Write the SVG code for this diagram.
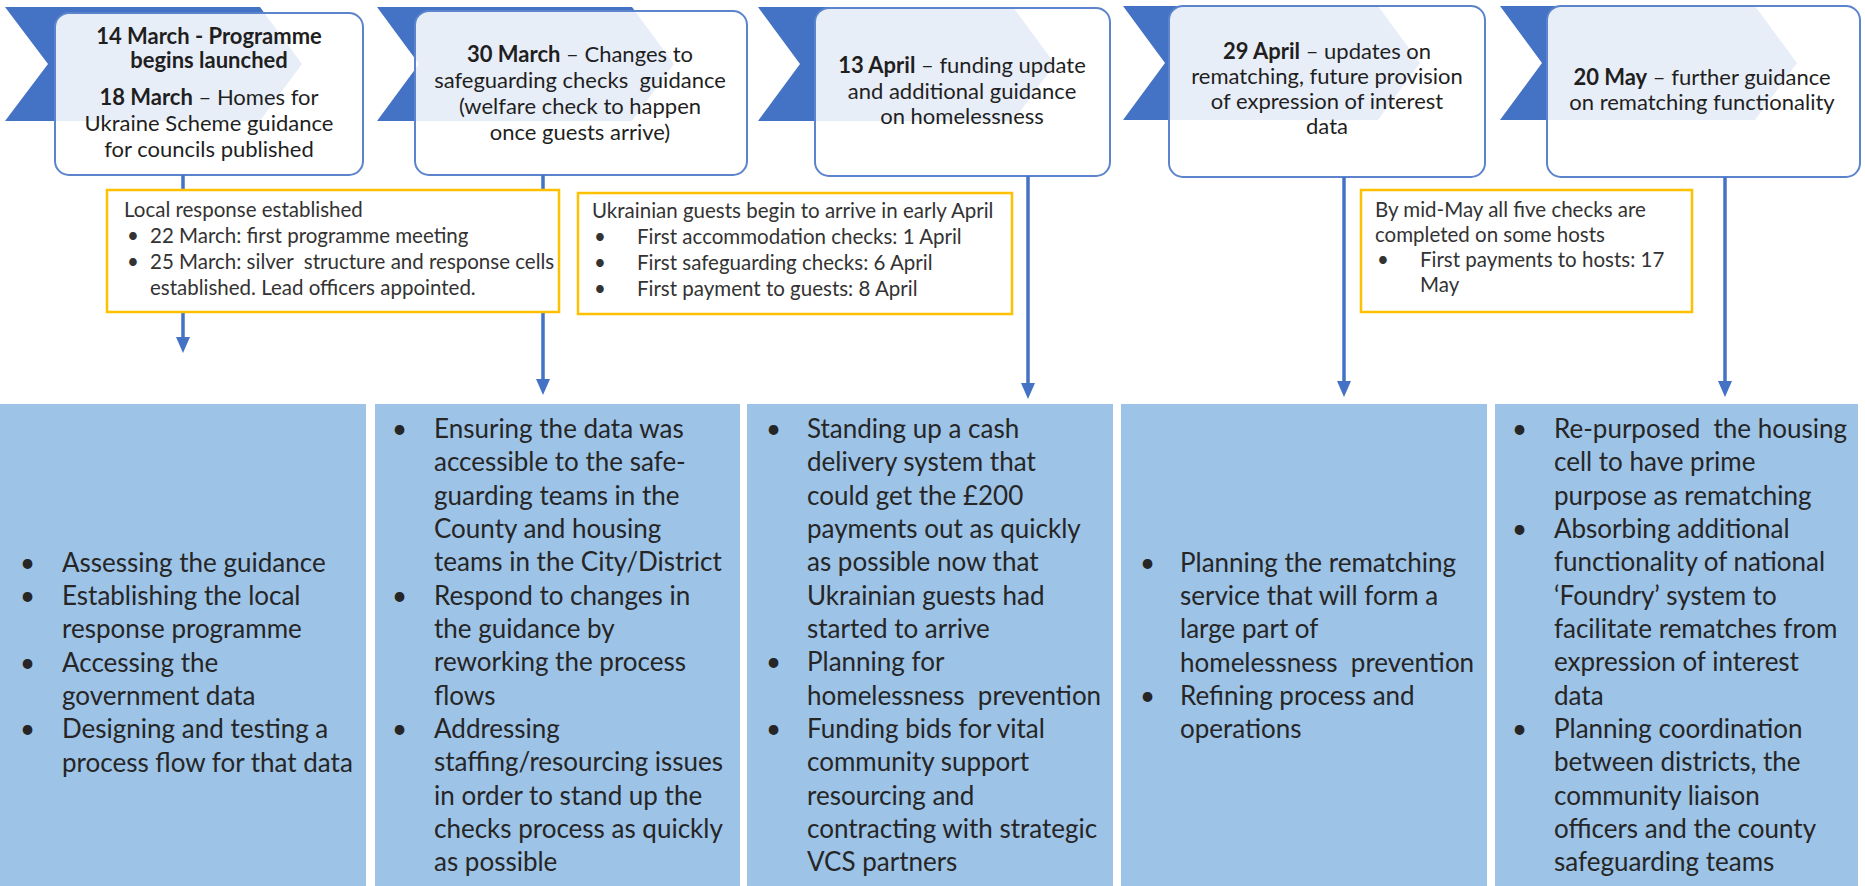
<svg xmlns="http://www.w3.org/2000/svg" width="1865" height="886" viewBox="0 0 1865 886">
  <defs>
    <marker id="arrowHead" viewBox="0 0 16 14" refX="4" refY="7" markerWidth="16" markerHeight="14" markerUnits="userSpaceOnUse" orient="auto">
      <path d="M0,0 L16,7 L0,14 z" fill="#4472C4"/>
    </marker>
  </defs>
  <style>
    text { font-family: Lato, "Liberation Sans", sans-serif; white-space: pre; }
    .chev { fill: #4472C4; }
    .card { fill: #ffffff; fill-opacity: 0.88; stroke: #5b84cc; stroke-width: 2; }
    .title { font-size: 22px; fill: #1f1f1f; text-anchor: middle; }
    .b { font-weight: bold; }
    .note { fill: #ffffff; stroke: #FFC000; stroke-width: 2.5; }
    .noteText { font-size: 20.5px; fill: #333333; }
    .panel { fill: #9DC3E6; }
    .body { font-size: 26px; fill: #262626; }
    .link { stroke: #4472C4; stroke-width: 3.5; fill: none; marker-end: url(#arrowHead); }
  </style>

  <rect width="1865" height="886" fill="#ffffff"/>

  <!-- timeline milestones: chevron with a rounded card over it -->
  <g id="milestone-14-march">
    <polygon class="chev" points="5,7 260,7 302,64 260,121 5,121 48,64"/>
    <rect class="card" x="55" y="13" width="308" height="162" rx="14"/>
    <text class="title b" x="209" y="44">14 March - Programme</text>
    <text class="title b" x="209" y="68">begins launched</text>
    <text class="title" x="209" y="105"><tspan class="b">18 March</tspan> – Homes for</text>
    <text class="title" x="209" y="131">Ukraine Scheme guidance</text>
    <text class="title" x="209" y="157">for councils published</text>
  </g>

  <g id="milestone-30-march">
    <polygon class="chev" points="377,7 632,7 674,64 632,121 377,121 419,64"/>
    <rect class="card" x="415" y="11" width="332" height="164" rx="14"/>
    <text class="title" x="580" y="62"><tspan class="b">30 March</tspan> – Changes to</text>
    <text class="title" x="580" y="88">safeguarding checks  guidance</text>
    <text class="title" x="580" y="114">(welfare check to happen</text>
    <text class="title" x="580" y="140">once guests arrive)</text>
  </g>

  <g id="milestone-13-april">
    <polygon class="chev" points="758,7 1013,7 1055,64 1013,121 758,121 800,64"/>
    <rect class="card" x="815" y="8" width="295" height="168" rx="14"/>
    <text class="title" x="962" y="73"><tspan class="b">13 April</tspan> – funding update</text>
    <text class="title" x="962" y="99">and additional guidance</text>
    <text class="title" x="962" y="124">on homelessness</text>
  </g>

  <g id="milestone-29-april">
    <polygon class="chev" points="1123,6 1378,6 1420,63 1378,120 1123,120 1165,63"/>
    <rect class="card" x="1169" y="6" width="316" height="171" rx="14"/>
    <text class="title" x="1327" y="59"><tspan class="b">29 April</tspan> – updates on</text>
    <text class="title" x="1327" y="84">rematching, future provision</text>
    <text class="title" x="1327" y="109">of expression of interest</text>
    <text class="title" x="1327" y="134">data</text>
  </g>

  <g id="milestone-20-may">
    <polygon class="chev" points="1500,6 1755,6 1797,63 1755,120 1500,120 1542,63"/>
    <rect class="card" x="1547" y="6" width="313" height="171" rx="14"/>
    <text class="title" x="1702" y="85"><tspan class="b">20 May</tspan> – further guidance</text>
    <text class="title" x="1702" y="110">on rematching functionality</text>
  </g>

  <!-- drop lines from each milestone to its activity panel -->
  <g id="connectors">
    <line class="link" x1="183" y1="175" x2="183" y2="341"/>
    <line class="link" x1="543" y1="175" x2="543" y2="383"/>
    <line class="link" x1="1028" y1="176" x2="1028" y2="387"/>
    <line class="link" x1="1344" y1="177" x2="1344" y2="385"/>
    <line class="link" x1="1725" y1="177" x2="1725" y2="385"/>
  </g>

  <!-- callout notes -->
  <g id="note-local-response">
    <rect class="note" x="107" y="190" width="452" height="122"/>
    <text class="noteText" x="124" y="217">Local response established</text>
    <text class="noteText" x="127" y="243">•</text>
    <text class="noteText" x="150" y="243">22 March: first programme meeting</text>
    <text class="noteText" x="127" y="269">•</text>
    <text class="noteText" x="150" y="269">25 March: silver  structure and response cells</text>
    <text class="noteText" x="150" y="295">established. Lead officers appointed.</text>
  </g>

  <g id="note-guests-arrive">
    <rect class="note" x="578" y="193" width="434" height="121"/>
    <text class="noteText" x="592" y="218">Ukrainian guests begin to arrive in early April</text>
    <text class="noteText" x="594" y="244">•</text>
    <text class="noteText" x="637" y="244">First accommodation checks: 1 April</text>
    <text class="noteText" x="594" y="270">•</text>
    <text class="noteText" x="637" y="270">First safeguarding checks: 6 April</text>
    <text class="noteText" x="594" y="296">•</text>
    <text class="noteText" x="637" y="296">First payment to guests: 8 April</text>
  </g>

  <g id="note-mid-may">
    <rect class="note" x="1361" y="190" width="331" height="122"/>
    <text class="noteText" x="1375" y="217">By mid-May all five checks are</text>
    <text class="noteText" x="1375" y="242">completed on some hosts</text>
    <text class="noteText" x="1377" y="267">•</text>
    <text class="noteText" x="1420" y="267">First payments to hosts: 17</text>
    <text class="noteText" x="1420" y="292">May</text>
  </g>

  <!-- activity panels -->
  <g id="panel-march-launch">
    <rect class="panel" x="0" y="404" width="366" height="482"/>
    <text class="body" x="20" y="572">•</text>
    <text class="body" x="62" y="572">Assessing the guidance</text>
    <text class="body" x="20" y="605">•</text>
    <text class="body" x="62" y="605">Establishing the local</text>
    <text class="body" x="62" y="638">response programme</text>
    <text class="body" x="20" y="672">•</text>
    <text class="body" x="62" y="672">Accessing the</text>
    <text class="body" x="62" y="705">government data</text>
    <text class="body" x="20" y="738">•</text>
    <text class="body" x="62" y="738">Designing and testing a</text>
    <text class="body" x="62" y="772">process flow for that data</text>
  </g>

  <g id="panel-safeguarding">
    <rect class="panel" x="375" y="404" width="365" height="482"/>
    <text class="body" x="392" y="438">•</text>
    <text class="body" x="434" y="438">Ensuring the data was</text>
    <text class="body" x="434" y="471">accessible to the safe-</text>
    <text class="body" x="434" y="505">guarding teams in the</text>
    <text class="body" x="434" y="538">County and housing</text>
    <text class="body" x="434" y="571">teams in the City/District</text>
    <text class="body" x="392" y="605">•</text>
    <text class="body" x="434" y="605">Respond to changes in</text>
    <text class="body" x="434" y="638">the guidance by</text>
    <text class="body" x="434" y="671">reworking the process</text>
    <text class="body" x="434" y="705">flows</text>
    <text class="body" x="392" y="738">•</text>
    <text class="body" x="434" y="738">Addressing</text>
    <text class="body" x="434" y="771">staffing/resourcing issues</text>
    <text class="body" x="434" y="805">in order to stand up the</text>
    <text class="body" x="434" y="838">checks process as quickly</text>
    <text class="body" x="434" y="871">as possible</text>
  </g>

  <g id="panel-funding">
    <rect class="panel" x="747" y="404" width="366" height="482"/>
    <text class="body" x="766" y="438">•</text>
    <text class="body" x="807" y="438">Standing up a cash</text>
    <text class="body" x="807" y="471">delivery system that</text>
    <text class="body" x="807" y="505">could get the £200</text>
    <text class="body" x="807" y="538">payments out as quickly</text>
    <text class="body" x="807" y="571">as possible now that</text>
    <text class="body" x="807" y="605">Ukrainian guests had</text>
    <text class="body" x="807" y="638">started to arrive</text>
    <text class="body" x="766" y="671">•</text>
    <text class="body" x="807" y="671">Planning for</text>
    <text class="body" x="807" y="705">homelessness  prevention</text>
    <text class="body" x="766" y="738">•</text>
    <text class="body" x="807" y="738">Funding bids for vital</text>
    <text class="body" x="807" y="771">community support</text>
    <text class="body" x="807" y="805">resourcing and</text>
    <text class="body" x="807" y="838">contracting with strategic</text>
    <text class="body" x="807" y="871">VCS partners</text>
  </g>

  <g id="panel-rematching-plan">
    <rect class="panel" x="1121" y="404" width="366" height="482"/>
    <text class="body" x="1140" y="572">•</text>
    <text class="body" x="1180" y="572">Planning the rematching</text>
    <text class="body" x="1180" y="605">service that will form a</text>
    <text class="body" x="1180" y="638">large part of</text>
    <text class="body" x="1180" y="672">homelessness  prevention</text>
    <text class="body" x="1140" y="705">•</text>
    <text class="body" x="1180" y="705">Refining process and</text>
    <text class="body" x="1180" y="738">operations</text>
  </g>

  <g id="panel-rematching-functionality">
    <rect class="panel" x="1495" y="404" width="363" height="482"/>
    <text class="body" x="1512" y="438">•</text>
    <text class="body" x="1554" y="438">Re-purposed  the housing</text>
    <text class="body" x="1554" y="471">cell to have prime</text>
    <text class="body" x="1554" y="505">purpose as rematching</text>
    <text class="body" x="1512" y="538">•</text>
    <text class="body" x="1554" y="538">Absorbing additional</text>
    <text class="body" x="1554" y="571">functionality of national</text>
    <text class="body" x="1554" y="605">‘Foundry’ system to</text>
    <text class="body" x="1554" y="638">facilitate rematches from</text>
    <text class="body" x="1554" y="671">expression of interest</text>
    <text class="body" x="1554" y="705">data</text>
    <text class="body" x="1512" y="738">•</text>
    <text class="body" x="1554" y="738">Planning coordination</text>
    <text class="body" x="1554" y="771">between districts, the</text>
    <text class="body" x="1554" y="805">community liaison</text>
    <text class="body" x="1554" y="838">officers and the county</text>
    <text class="body" x="1554" y="871">safeguarding teams</text>
  </g>
</svg>
